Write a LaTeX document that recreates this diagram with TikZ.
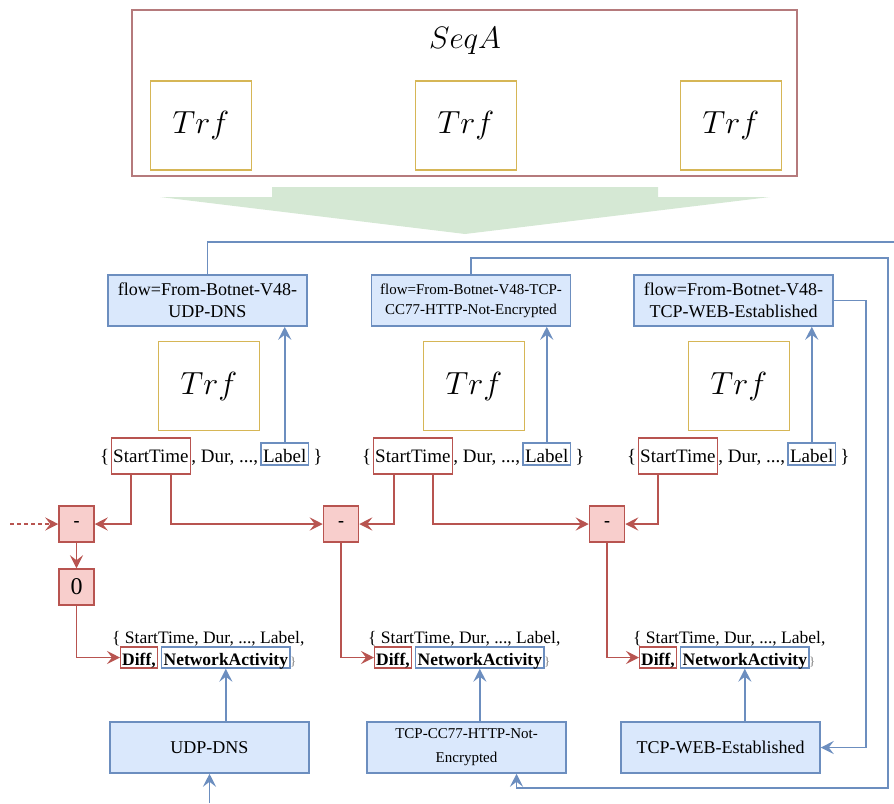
\RequirePackage{fix-cm}
\documentclass[tikz,border=0pt]{standalone}
\usepackage{fontspec}
\setmainfont{Liberation Serif}
\usetikzlibrary{arrows.meta,calc}

\definecolor{redc}{HTML}{B85450}
\definecolor{redf}{HTML}{F8CECC}
\definecolor{bluec}{HTML}{6C8EBF}
\definecolor{bluef}{HTML}{DAE8FC}
\definecolor{yelc}{HTML}{D6B656}
\definecolor{greenf}{HTML}{D5E8D4}
\definecolor{framec}{HTML}{B57A7C}

\tikzset{
  txt/.style={inner sep=0pt, font=\fontsize{19}{22}\selectfont},
  txtb/.style={inner sep=0pt, font=\fontsize{17.5}{21}\selectfont},
  stbox/.style={draw=redc, line width=1.4pt, inner xsep=2pt, inner ysep=0pt,
    text height=24pt, text depth=12pt, font=\fontsize{19}{22}\selectfont},
  lbbox/.style={draw=bluec, line width=1.4pt, inner xsep=2pt, inner ysep=0pt,
    text height=19pt, text depth=3pt, font=\fontsize{19}{22}\selectfont},
  diffbox/.style={draw=redc, line width=1.4pt, inner xsep=1.5pt, inner ysep=0pt,
    text height=18pt, text depth=3pt, font=\fontsize{17.5}{21}\selectfont\bfseries},
  nabox/.style={draw=bluec, line width=1.4pt, inner xsep=2pt, inner ysep=0pt,
    text height=18pt, text depth=3pt, font=\fontsize{17.5}{21}\selectfont\bfseries},
  trfbox/.style={draw=yelc, line width=1.8pt, fill=white, minimum width=101pt,
    minimum height=89pt, inner sep=0pt, font=\fontsize{32}{36}\selectfont},
  flowbox/.style={draw=bluec, fill=bluef, line width=1.5pt, minimum width=199pt,
    minimum height=51pt, inner sep=0pt, align=center},
  opbox/.style={draw=redc, fill=redf, line width=1.5pt, minimum width=35pt,
    minimum height=36pt, inner sep=0pt},
  tip/.style={-{Stealth[length=13pt,width=13pt,inset=5pt]}},
  redarr/.style={draw=redc, line width=1.7pt, tip},
  bluearr/.style={draw=bluec, line width=1.7pt, tip},
  blueln/.style={draw=bluec, line width=1.7pt},
}

% one record: { StartTime, Dur, ..., Label }
\newcommand\recordrow[2]{%
  \node[txt, anchor=base west] (#1b) at #2 {\{};
  \node[stbox, anchor=base west] (#1s) at ([xshift=1pt]#1b.base east) {StartTime};
  \node[txt, anchor=base west] (#1m) at (#1s.base east) {, Dur, ...,};
  \node[lbbox, anchor=base west] (#1l) at ([xshift=2pt]#1m.base east) {Label};
  \node[txt, anchor=base west] (#1e) at ([xshift=4pt]#1l.base east) {\}};
}
% extended record with Diff and NetworkActivity
\newcommand\extrow[3]{%
  \node[txtb, anchor=base west] (#1t) at #2 {\{ StartTime, Dur, ..., Label,};
  \node[diffbox, anchor=base west] (#1d) at #3 {Diff,};
  \node[nabox, anchor=base west] (#1n) at ([xshift=3pt]#1d.base east) {NetworkActivity};
  \node[inner sep=0pt, anchor=base west, text=black!55, font=\fontsize{12}{14}\selectfont]
    (#1c) at ([xshift=-0.5pt]#1n.base east) {\}};
}

\begin{document}
\begin{tikzpicture}[x=1pt,y=-1pt]
\useasboundingbox (0,0) rectangle (894,803);

% sequence container
\node[draw=framec, line width=1.5pt, minimum width=665pt, minimum height=166pt,
  inner sep=0pt] (seq) at (464.5,93) {};
\node[font=\fontsize{31}{36}\selectfont] (seqlab) at (465,41) {$SeqA$};
\node[trfbox] (ta) at (201,125.5) {$Trf$};
\node[trfbox] (tb) at (466,125.5) {$Trf$};
\node[trfbox] (tc) at (731,125.5) {$Trf$};

% broad green arrow
\fill[greenf] (272,187) -- (658,187) -- (658,197) -- (770,197) -- (465,234)
  -- (160,197) -- (272,197) -- cycle;

% flow labels
\node[flowbox, font=\fontsize{18}{22}\selectfont] (f1) at (207.5,300.5)
  {flow=From-Botnet-V48-\\UDP-DNS};
\node[flowbox, font=\fontsize{15}{20}\selectfont] (f2) at (471,300.5)
  {flow=From-Botnet-V48-TCP-\\CC77-HTTP-Not-Encrypted};
\node[flowbox, font=\fontsize{18}{22}\selectfont] (f3) at (733.5,300.5)
  {flow=From-Botnet-V48-\\TCP-WEB-Established};

% transformations
\node[trfbox] (r1) at (209,386) {$Trf$};
\node[trfbox] (r2) at (474,386) {$Trf$};
\node[trfbox] (r3) at (739,386) {$Trf$};

% records
\recordrow{a}{(100,462)}
\recordrow{b}{(362,462)}
\recordrow{c}{(627,462)}

% difference operators
\node[opbox, font=\fontsize{18}{22}\selectfont\bfseries] (m1) at (76.5,524) {-};
\node[opbox, font=\fontsize{18}{22}\selectfont\bfseries] (m2) at (341,524) {-};
\node[opbox, font=\fontsize{18}{22}\selectfont\bfseries] (m3) at (607,524) {-};
\node[opbox, font=\fontsize{24}{28}\selectfont] (z) at (76.5,587) {0};

% extended records
\extrow{p}{(112,643)}{(120,665)}
\extrow{q}{(368,643)}{(374,665)}
\extrow{r}{(633,643)}{(639,665)}

% activity boxes
\node[flowbox, font=\fontsize{18}{22}\selectfont] (u1) at (209.5,747.5) {UDP-DNS};
\node[flowbox, font=\fontsize{15}{24}\selectfont] (u2) at (466.5,747.5)
  {TCP-CC77-HTTP-Not-\\Encrypted};
\node[flowbox, font=\fontsize{18}{22}\selectfont] (u3) at (720.5,747.5) {TCP-WEB-Established};

% red connectors
\coordinate (dstart) at (10,524);
\draw[redarr, dash pattern=on 4pt off 3pt] (dstart) -- (m1.west);
\draw[redarr] ($(as.south west)!0.25!(as.south east)$) |- (m1.east);
\draw[redarr] ($(as.south west)!0.75!(as.south east)$) |- (m2.west);
\draw[redarr] ($(bs.south west)!0.27!(bs.south east)$) |- (m2.east);
\draw[redarr] ($(bs.south west)!0.75!(bs.south east)$) |- (m3.west);
\draw[redarr] ($(cs.south west)!0.25!(cs.south east)$) |- (m3.east);
\draw[redarr] (m1.south) -- (z.north);
\draw[redarr] (z.south) |- (pd.west);
\draw[redarr] (m2.south) |- (qd.west);
\draw[redarr] (m3.south) |- (rd.west);

% blue connectors: label to flow
\draw[bluearr] (al.north) -- (al.north |- f1.south);
\draw[bluearr] (bl.north) -- (bl.north |- f2.south);
\draw[bluearr] (cl.north) -- (cl.north |- f3.south);

% blue connectors: activity to record
\draw[bluearr] (pn.south |- u1.north) -- (pn.south);
\draw[bluearr] (qn.south |- u2.north) -- (qn.south);
\draw[bluearr] (rn.south |- u3.north) -- (rn.south);

% flow to activity routes
\coordinate (out1) at (894,242);
\coordinate (in1) at (u1.south |- 0,803);
\draw[blueln] (f1.north) |- (out1);
\draw[bluearr] (in1) -- (u1.south);

\coordinate (k2a) at (888,258);
\coordinate (k2b) at (888,788);
\coordinate (u2in) at ([xshift=50pt]u2.south);
\draw[bluearr] (f2.north) |- (k2a) -- (k2b) -| (u2in);

\coordinate (k3) at (866,747.5);
\draw[bluearr] (f3.east) -| (k3) -- (u3.east);
\end{tikzpicture}
\end{document}
